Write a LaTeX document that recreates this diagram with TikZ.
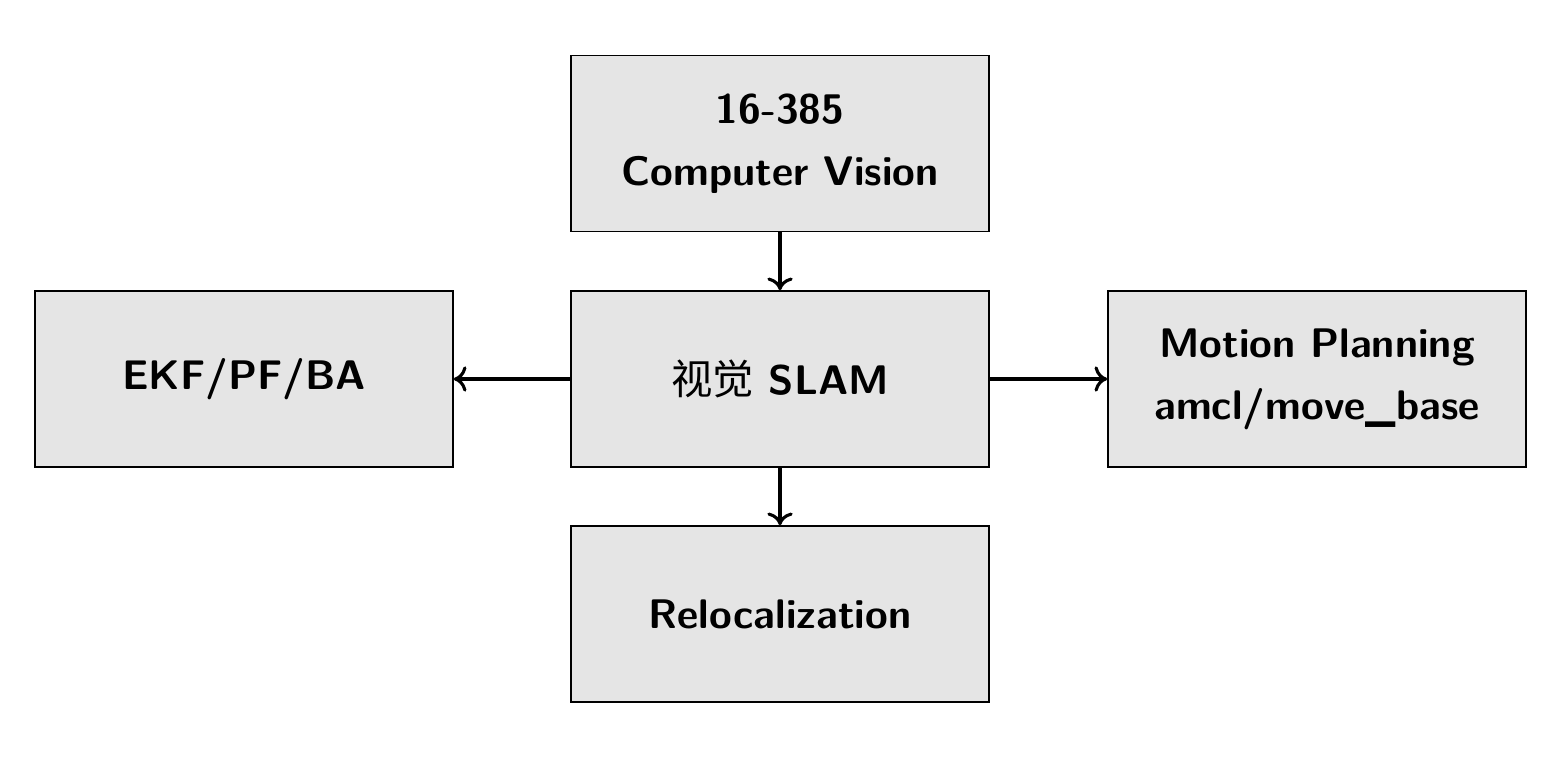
\documentclass[tikz,border=0pt]{standalone}
\usepackage{fontspec}
\newfontfamily\cjk{Noto Sans CJK SC}
\usepackage{tikz}
\usetikzlibrary{arrows.meta}

\begin{document}
\begin{tikzpicture}[
		every node/.style={rectangle, draw, semithick, fill=gray!20, minimum width=5.225cm, minimum height=2.2cm, align=center, font=\fontsize{14.7pt}{18pt}\selectfont\sffamily\bfseries},
		>={To[length=4.5pt, width=9pt]}
	]
  \useasboundingbox (0cm, 0cm) rectangle (19.525cm, 9.55cm);
  \node (cv) at (9.75cm, 7.756cm) {16-385\\[4pt] Computer Vision};
  \node (slam) at (9.75cm, 4.8125cm) {{\cjk\mdseries 视觉} SLAM};
  \node (reloc) at (9.75cm, 1.875cm) {Relocalization};
  \node (ekf) at (3.05cm, 4.8125cm) {EKF/PF/BA};
  \node (mp) at (16.4625cm, 4.8125cm) {Motion Planning\\[4pt] amcl/move\_base};
  \draw[->, line width=1.1pt] (cv) -- (slam);
  \draw[->, line width=1.1pt] (slam) -- (reloc);
  \draw[->, line width=1.1pt] (slam) -- (ekf);
  \draw[->, line width=1.1pt] (slam) -- (mp);
\end{tikzpicture}
\end{document}
